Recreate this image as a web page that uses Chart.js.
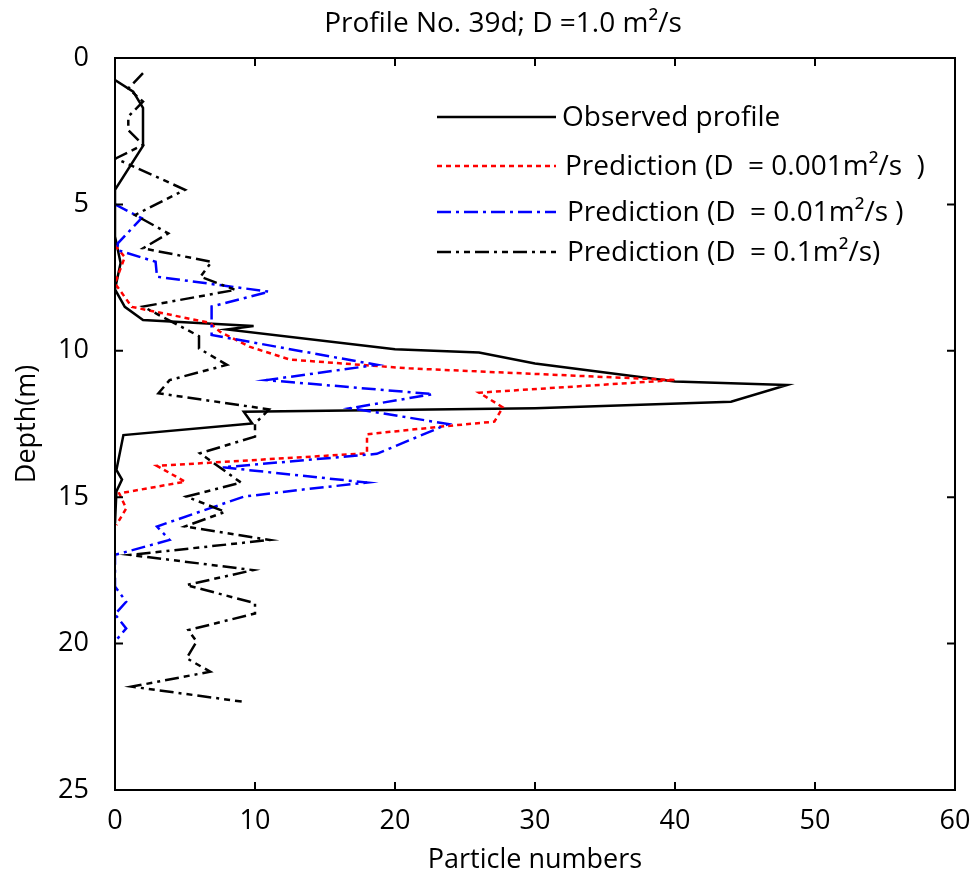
<!DOCTYPE html>
<html>
<head>
<meta charset="utf-8">
<script src="https://cdn.jsdelivr.net/npm/chart.js@4.4.1/dist/chart.umd.min.js"></script>
<style>
  html, body { margin: 0; padding: 0; background: #ffffff; }
  #wrap { width: 973px; height: 880px; position: relative; }
</style>
</head>
<body>
<div id="wrap"><canvas id="c" width="973" height="880"></canvas></div>
<script>
// ---- Data ----
const chartTitle = "Profile No. 39d; D =1.0 m\u00B2/s";
const xTitle = "Particle numbers";
const yTitle = "Depth(m)";
const xTicks = [0, 10, 20, 30, 40, 50, 60];
const yTicks = [0, 5, 10, 15, 20, 25];

const seriesNames = [
  "Observed profile",
  "Prediction (D  = 0.001m\u00B2/s  )",
  "Prediction (D  = 0.01m\u00B2/s )",
  "Prediction (D  = 0.1m\u00B2/s)"
];

// Observed profile
const obsCount = [0, 1.3, 2, 2, 0, 0, 0.4, 0, 0.7, 2, 9.9, 8, 20, 26, 30, 40, 48, 44, 30, 9.2, 9.8, 0.6, 0.1, 0.5, 0.1, 0];
const obsDepth = [0.75, 1.15, 1.7, 3.0, 4.5, 6.1, 7.0, 7.9, 8.5, 8.95, 9.15, 9.27, 9.95, 10.06, 10.43, 11.05, 11.17, 11.74, 11.96, 12.08, 12.48, 12.88, 14.07, 14.4, 14.8, 15.9];

// Prediction D = 0.001
const p001Count = [0, 0.7, 0, 1.2, 6.8, 7.5, 9.6, 12.5, 19, 21, 40, 26, 27.7, 27.1, 23.7, 18, 18, 3, 5, 0.3, 0.8, 0.1];
const p001Depth = [6.4, 6.8, 7.7, 8.5, 9.05, 9.35, 9.86, 10.3, 10.53, 10.6, 11.0, 11.43, 11.93, 12.42, 12.57, 12.85, 13.5, 13.93, 14.47, 14.87, 15.38, 15.95];

// Prediction D = 0.01
const p01Count = [0, 1.9, 0.2, 0.2, 2.9, 3, 11, 6.9, 6.9, 18.7, 10.8, 22.7, 16.8, 23.8, 18.7, 7.7, 18, 13.2, 9.2, 3, 3.9, 0, 0, 0.8, 0, 0.8, 0];
const p01Depth = [5.0, 5.47, 6.33, 6.56, 6.96, 7.47, 7.98, 8.49, 9.46, 10.48, 11.0, 11.48, 11.96, 12.5, 13.52, 13.98, 14.5, 14.75, 14.98, 16.0, 16.46, 16.97, 18.05, 18.57, 19.0, 19.48, 19.93];

// Prediction D = 0.1
const p1Count = [2.0, 0.95, 2.0, 0.95, 0.95, 2.0, 0.05, 5.0, 1.43, 3.8, 2.0, 6.9, 6.1, 8.6, 2.0, 6.0, 6.0, 8.0, 3.9, 3.1, 11.0, 10.5, 10.0, 10.0, 6.07, 9.0, 5.1, 7.86, 5.0, 11.07, 1.07, 9.88, 5.1, 10.0, 10.0, 5.24, 5.83, 5.12, 6.8, 1.2, 9.05];
const p1Depth = [0.52, 1.04, 1.49, 2.0, 2.46, 2.97, 3.43, 4.5, 5.36, 5.99, 6.5, 6.96, 7.47, 7.92, 8.49, 9.5, 9.92, 10.48, 11.0, 11.45, 12.0, 12.25, 12.48, 12.93, 13.5, 14.5, 14.98, 15.5, 16.0, 16.46, 16.97, 17.49, 18.0, 18.62, 18.97, 19.54, 19.93, 20.5, 20.96, 21.47, 21.98];

// ---- Styles ----
const FONT = "'Open Sans', 'Noto Sans', sans-serif";
const seriesColors = ["#000000", "#ff0000", "#0000ff", "#000000"];
const seriesDash = [[], [5, 4], [14, 5, 3, 5], [14, 5, 3, 5, 6, 5]];

function pts(xs, ys) { return xs.map((v, i) => ({ x: v, y: ys[i] })); }

const allCounts = [obsCount, p001Count, p01Count, p1Count];
const allDepths = [obsDepth, p001Depth, p01Depth, p1Depth];

const datasets = seriesNames.map((name, i) => ({
  label: name,
  data: pts(allCounts[i], allDepths[i]),
  showLine: true,
  borderColor: seriesColors[i],
  borderWidth: 2.5,
  borderDash: seriesDash[i],
  pointRadius: 0,
  pointHoverRadius: 0,
  tension: 0,
  fill: false,
  order: 4 - i
}));

// Frame, inward ticks, title and legend
const decorPlugin = {
  id: 'decor',
  afterDraw(chart) {
    const ctx = chart.ctx;
    const a = chart.chartArea;
    const xs = chart.scales.x, ys = chart.scales.y;
    ctx.save();
    ctx.strokeStyle = '#000';
    ctx.lineWidth = 2;
    ctx.setLineDash([]);
    ctx.strokeRect(a.left, a.top, a.right - a.left, a.bottom - a.top);
    const tl = 8;
    ctx.beginPath();
    xTicks.forEach(v => {
      const px = xs.getPixelForValue(v);
      if (Math.abs(px - a.left) < 1 || Math.abs(px - a.right) < 1) return;
      ctx.moveTo(px, a.bottom); ctx.lineTo(px, a.bottom - tl);
      ctx.moveTo(px, a.top); ctx.lineTo(px, a.top + tl);
    });
    yTicks.forEach(v => {
      const py = ys.getPixelForValue(v);
      if (Math.abs(py - a.top) < 1 || Math.abs(py - a.bottom) < 1) return;
      ctx.moveTo(a.left, py); ctx.lineTo(a.left + tl, py);
      ctx.moveTo(a.right, py); ctx.lineTo(a.right - tl, py);
    });
    ctx.stroke();

    // Title
    ctx.fillStyle = '#000';
    ctx.font = "28px " + FONT;
    ctx.textAlign = 'center';
    ctx.textBaseline = 'middle';
    ctx.fillText(chartTitle, 503, 24);

    // Legend
    const rowsY = [117, 166, 212, 252];
    const textX = [562, 565, 567, 567];
    ctx.font = "28px " + FONT;
    ctx.textAlign = 'left';
    chart.data.datasets.forEach((ds, i) => {
      ctx.beginPath();
      ctx.strokeStyle = ds.borderColor;
      ctx.lineWidth = 2.5;
      ctx.setLineDash(ds.borderDash);
      ctx.moveTo(437, rowsY[i]);
      ctx.lineTo(556, rowsY[i]);
      ctx.stroke();
      ctx.setLineDash([]);
      ctx.fillStyle = '#000';
      ctx.fillText(ds.label, textX[i], rowsY[i] + 1);
    });
    ctx.restore();
  }
};

new Chart(document.getElementById('c'), {
  type: 'scatter',
  data: { datasets },
  options: {
    responsive: false,
    animation: false,
    layout: { padding: { top: 58, right: 18, left: 0, bottom: 0 } },
    plugins: {
      legend: { display: false },
      title: { display: false },
      tooltip: { enabled: false }
    },
    scales: {
      x: {
        type: 'linear',
        min: 0, max: 60,
        afterFit(s) { s.height = 90; s.paddingLeft = 0; s.paddingRight = 0; },
        afterBuildTicks(s) { s.ticks = xTicks.map(v => ({ value: v })); },
        grid: { display: false },
        border: { display: false },
        ticks: { color: '#000', font: { family: FONT, size: 27 }, padding: 7, maxRotation: 0, autoSkip: false },
        title: { display: true, text: xTitle, color: '#000', font: { family: FONT, size: 27 }, padding: { top: 0, bottom: 3 } }
      },
      y: {
        type: 'linear',
        min: 0, max: 25,
        reverse: true,
        afterFit(s) { s.width = 115; s.paddingTop = 0; s.paddingBottom = 0; },
        afterBuildTicks(s) { s.ticks = yTicks.map(v => ({ value: v })); },
        grid: { display: false },
        border: { display: false },
        ticks: { color: '#000', font: { family: FONT, size: 27 }, padding: 18, autoSkip: false },
        title: { display: true, text: yTitle, color: '#000', font: { family: FONT, size: 27 }, padding: { top: 11, bottom: 0 } }
      }
    }
  },
  plugins: [decorPlugin]
});
</script>
</body>
</html>
